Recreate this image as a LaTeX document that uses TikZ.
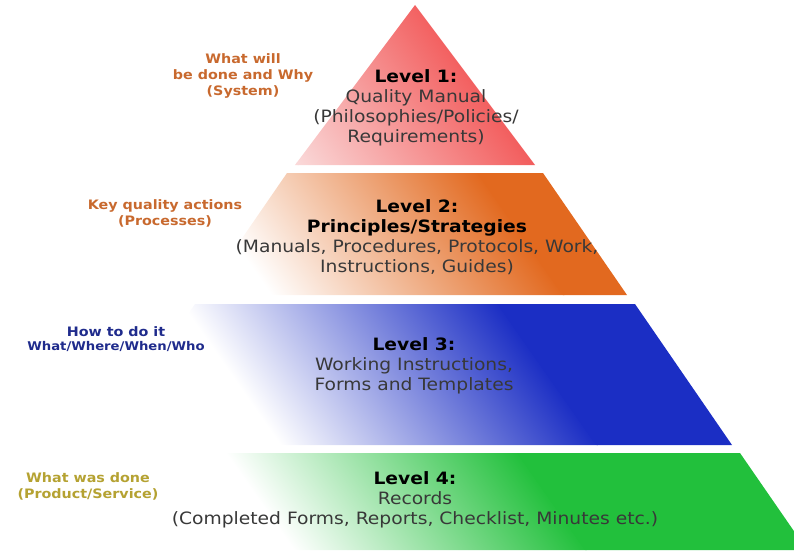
\documentclass[tikz,border=0pt]{standalone}
\usepackage{fontspec}
\setmainfont{DejaVu Sans}[FakeStretch=1.1]
\usetikzlibrary{positioning}

\definecolor{lvred}{HTML}{F25A5A}
\definecolor{lvpink}{HTML}{FAD9D9}
\definecolor{lvorange}{HTML}{E2691F}
\definecolor{lvblue}{HTML}{1B2EC4}
\definecolor{lvgreen}{HTML}{22C03C}
\definecolor{sysbrown}{HTML}{C8692E}
\definecolor{hownavy}{HTML}{1F2B8C}
\definecolor{doneolive}{HTML}{B5A232}

\begin{document}
\begin{tikzpicture}[x=1pt, y=1pt,
    level/.style={align=center, text=black!78, inner sep=0pt, font=\fontsize{17}{20}\selectfont},
    side/.style={align=center, inner sep=0pt, font=\bfseries\fontsize{13}{16}\selectfont}]
  \useasboundingbox (0,0) rectangle (794,550);

  % level 1, red
  \begin{scope}
    \clip (415,545) -- (535,385) -- (295,385) -- cycle;
    \begin{scope}[transform canvas={rotate around={35:(395,420)}}]
      \fill[lvpink] (-105,20) rectangle (296,820);
      \shade[left color=lvpink, right color=lvred] (295,20) rectangle (495,820);
      \fill[lvred] (494,20) rectangle (895,820);
    \end{scope}
  \end{scope}

  % level 2, orange
  \begin{scope}
    \clip (287,377) -- (543,377) -- (627,255) -- (203,255) -- cycle;
    \begin{scope}[transform canvas={rotate around={35:(375,316)}}]
      \fill[white] (-125,-84) rectangle (256,716);
      \shade[left color=white, right color=lvorange] (255,-84) rectangle (495,716);
      \fill[lvorange] (494,-84) rectangle (875,716);
    \end{scope}
  \end{scope}

  % level 3, blue
  \begin{scope}
    \clip (195,246) -- (635,246) -- (732,105) -- (98,105) -- cycle;
    \begin{scope}[transform canvas={rotate around={35:(390,175)}}]
      \fill[white] (-110,-225) rectangle (261,575);
      \shade[left color=white, right color=lvblue] (260,-225) rectangle (520,575);
      \fill[lvblue] (519,-225) rectangle (890,575);
    \end{scope}
  \end{scope}

  % level 4, green
  \begin{scope}
    \clip (90,97) -- (740,97) -- (807,0) -- (23,0) -- cycle;
    \begin{scope}[transform canvas={rotate around={35:(405,50)}}]
      \fill[white] (-95,-350) rectangle (286,450);
      \shade[left color=white, right color=lvgreen] (285,-350) rectangle (525,450);
      \fill[lvgreen] (524,-350) rectangle (905,450);
    \end{scope}
  \end{scope}

  \node[level] (lvone) at (416,442) {{\color{black}\bfseries Level 1:}\\Quality Manual\\(Philosophies/Policies/\\Requirements)};
  \node[level] (lvtwo) at (417,313) {{\color{black}\bfseries Level 2:}\\{\color{black}\bfseries Principles/Strategies}\\(Manuals, Procedures, Protocols, Work,\\Instructions, Guides)};
  \node[level] (lvthree) at (414,184) {{\color{black}\bfseries Level 3:}\\Working Instructions,\\Forms and Templates};
  \node[level] (lvfour) at (415,50) {{\color{black}\bfseries Level 4:}\\Records\\(Completed Forms, Reports, Checklist, Minutes etc.)};

  \node[side, text=sysbrown] (sys) at (243,474) {What will\\be done and Why\\(System)};
  \node[side, text=sysbrown] (proc) at (165,337) {Key quality actions\\(Processes)};
  \node[side, text=hownavy] (how) at (116,218) {How to do it};
  \node[side, text=hownavy, font=\bfseries\fontsize{12}{14}\selectfont, below=4pt of how] (www) {What/Where/When/Who};
  \node[side, text=doneolive] (done) at (88,64) {What was done\\(Product/Service)};

\end{tikzpicture}
\end{document}
